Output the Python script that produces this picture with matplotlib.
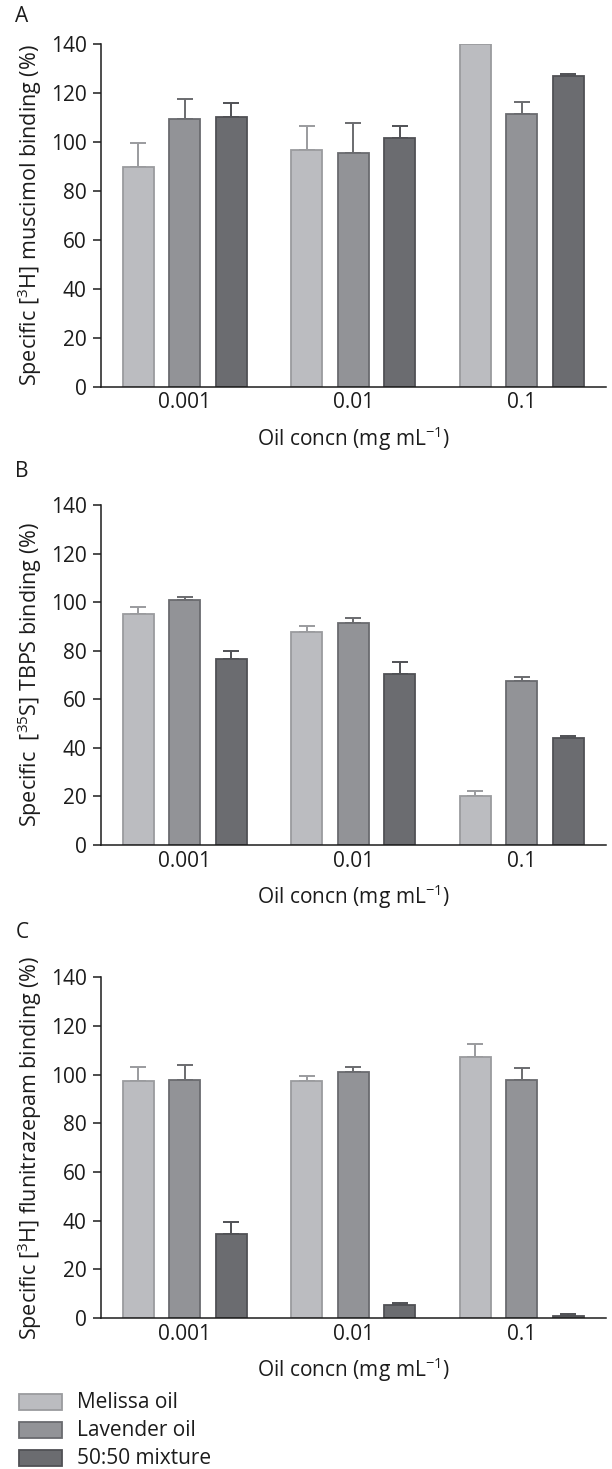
import matplotlib
matplotlib.use('Agg')
import matplotlib.pyplot as plt
import numpy as np
from matplotlib.patches import Rectangle

plt.rcParams['font.family'] = ['Open Sans', 'DejaVu Sans']
plt.rcParams['mathtext.fontset'] = 'custom'
plt.rcParams['mathtext.rm'] = 'Open Sans'
plt.rcParams['mathtext.it'] = 'Open Sans:italic'

concs = ['0.001', '0.01', '0.1']
series = ['Melissa oil', 'Lavender oil', '50:50 mixture']

# panel A: [3H] muscimol
a_mel = [89.5, 96.5, 140.0]
a_lav = [109.1, 95.5, 111.4]
a_mix = [110.1, 101.6, 126.7]
a_mel_err = [10.0, 9.9, 0.0]
a_lav_err = [8.5, 12.3, 4.8]
a_mix_err = [5.8, 4.8, 1.1]

# panel B: [35S] TBPS
b_mel = [95.1, 87.7, 20.0]
b_lav = [101.0, 91.4, 67.7]
b_mix = [76.4, 70.3, 44.1]
b_mel_err = [2.8, 2.5, 2.1]
b_lav_err = [1.3, 2.0, 1.5]
b_mix_err = [3.5, 5.0, 0.7]

# panel C: [3H] flunitrazepam
c_mel = [97.2, 97.2, 107.3]
c_lav = [97.9, 101.1, 97.9]
c_mix = [34.6, 5.2, 0.8]
c_mel_err = [6.1, 2.3, 5.3]
c_lav_err = [5.9, 2.2, 4.8]
c_mix_err = [4.9, 1.1, 0.8]

fills = ['#bbbcc0', '#929397', '#6b6c70']
edges = ['#9a9b9e', '#6a6b6f', '#505155']
ink = '#1c1c1c'

W, H = 612, 1469
fig = plt.figure(figsize=(W / 100, H / 100), dpi=100)

def make_axes(top_px, zero_px):
    return fig.add_axes([100.5 / W, 1 - zero_px / H, 505.5 / W, (zero_px - top_px) / H])

panels = [
    (make_axes(43.7, 386.7), 'A', 16, r'Specific [$\mathregular{^3}$H] muscimol binding (%)',
     [a_mel, a_lav, a_mix], [a_mel_err, a_lav_err, a_mix_err]),
    (make_axes(505, 845), 'B', 471, r'Specific  [$\mathregular{^{35}}$S] TBPS binding (%)',
     [b_mel, b_lav, b_mix], [b_mel_err, b_lav_err, b_mix_err]),
    (make_axes(977.3, 1318), 'C', 932, r'Specific [$\mathregular{^3}$H] flunitrazepam binding (%)',
     [c_mel, c_lav, c_mix], [c_mel_err, c_lav_err, c_mix_err]),
]

x = np.arange(len(concs))
width = 0.184
offs = [-0.2756, 0, 0.2756]

for ax, letter, ly, ylabel, vals, errs in panels:
    for i in range(3):
        v = np.array(vals[i])
        e = np.array(errs[i])
        ax.errorbar(x + offs[i], v, yerr=[np.zeros_like(e), e], fmt='none',
                    ecolor=edges[i], elinewidth=1.4, capsize=5.5, capthick=1.4, zorder=1)
        ax.bar(x + offs[i], v, width=width, color=fills[i], edgecolor=edges[i],
               linewidth=1.3, zorder=2)
    ax.set_xlim(-0.5, 2.5)
    ax.set_ylim(0, 140)
    ax.set_yticks(range(0, 141, 20))
    ax.set_xticks(x)
    ax.set_xticklabels(concs)
    ax.spines['top'].set_visible(False)
    ax.spines['right'].set_visible(False)
    for s in ('left', 'bottom'):
        ax.spines[s].set_color(ink)
        ax.spines[s].set_linewidth(1.1)
    ax.tick_params(axis='y', length=6, width=1.1, pad=4, labelsize=15, colors=ink)
    ax.tick_params(axis='x', length=0, pad=4, labelsize=15, colors=ink)
    ax.set_xlabel(r'Oil concn (mg mL$^{\mathregular{-1}}$)', fontsize=15, color=ink, labelpad=8)
    ax.set_ylabel(ylabel, fontsize=15.5, color=ink, labelpad=5)
    fig.text(22 / W, 1 - ly / H, letter, fontsize=15, color=ink, ha='center', va='center')

# legend drawn by hand at bottom left
leg_y = [1402, 1430, 1458]
for i in range(3):
    fig.patches.append(Rectangle((18.5 / W, 1 - (leg_y[i] + 8) / H), 43 / W, 16 / H,
                                 transform=fig.transFigure, facecolor=fills[i],
                                 edgecolor=edges[i], linewidth=1.3))
    fig.text(77 / W, 1 - leg_y[i] / H, series[i], fontsize=15, color=ink,
             ha='left', va='center')

fig.savefig('out.png', dpi=100)
